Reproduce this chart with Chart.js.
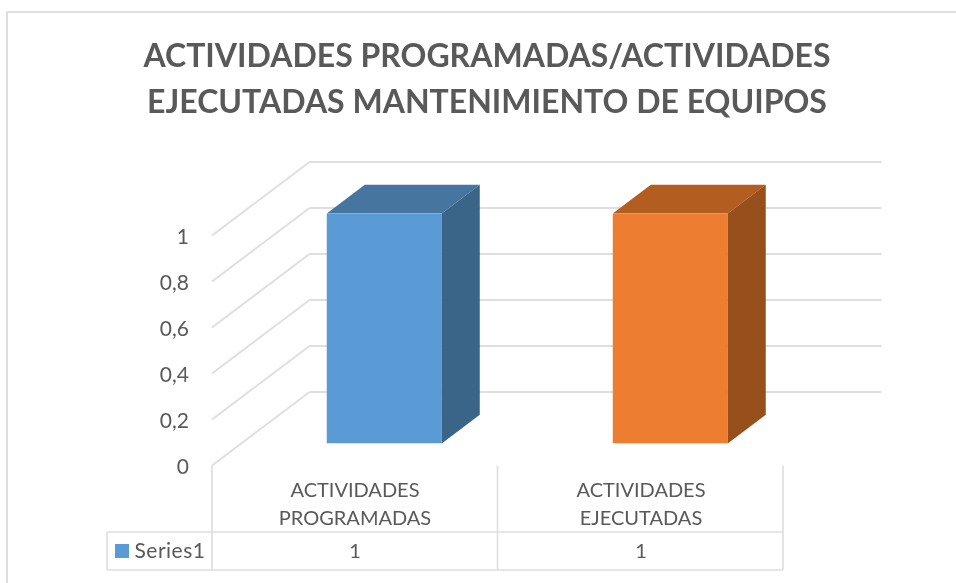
<!DOCTYPE html>
<html>
<head>
<meta charset="utf-8">
<style>html,body{margin:0;padding:0;background:#fff}#wrap{width:956px;height:583px}canvas{display:block}</style>
<script src="https://cdn.jsdelivr.net/npm/chart.js@4"></script>
</head>
<body>
<div id="wrap"><canvas id="c" width="956" height="583"></canvas></div>
<script>
const categories = [['ACTIVIDADES','PROGRAMADAS'],['ACTIVIDADES','EJECUTADAS']];
const seriesName = 'Series1';
const seriesValues = [1, 1];
const titleLines = ['ACTIVIDADES PROGRAMADAS/ACTIVIDADES','EJECUTADAS MANTENIMIENTO DE EQUIPOS'];
const frontColors = ['#5B9BD5','#ED7D31'];
const topColors = ['#4675A0','#B35D21'];
const sideColors = ['#3A6488','#974F1B'];

const GRID = '#DEDEDE', TEXT = '#595959', FONT = 'Lato';
const DEPTH = {x: 97.5, y: -73.5};
const BAR_OFFSET = 0.3, BAR_DEPTH = 0.39;

function poly(ctx, pts, fill){
  ctx.beginPath();
  pts.forEach((p,i)=> i ? ctx.lineTo(p[0],p[1]) : ctx.moveTo(p[0],p[1]));
  ctx.closePath();
  ctx.fillStyle = fill;
  ctx.fill();
}
function line(ctx,x1,y1,x2,y2){
  ctx.beginPath();ctx.moveTo(x1,y1);ctx.lineTo(x2,y2);ctx.stroke();
}

const scene3d = {
  id:'scene3d',
  beforeDraw(chart){
    const {ctx} = chart;
    ctx.save();
    ctx.fillStyle='#fff';ctx.fillRect(0,0,chart.width,chart.height);
    ctx.strokeStyle=GRID;ctx.lineWidth=2;
    line(ctx,6,12,956,12);
    line(ctx,7,12,7,583);
    ctx.restore();
  },
  beforeDatasetsDraw(chart){
    const {ctx, chartArea:a, scales:{x,y}} = chart;
    ctx.save();
    ctx.strokeStyle=GRID;ctx.lineWidth=1.8;
    y.ticks.forEach(t=>{
      const py=y.getPixelForValue(t.value);
      line(ctx,a.left,py,a.left+DEPTH.x,py+DEPTH.y);
      line(ctx,a.left+DEPTH.x,py+DEPTH.y,a.right+DEPTH.x,py+DEPTH.y);
    });
    ctx.restore();
    ctx.save();
    ctx.translate(DEPTH.x*BAR_OFFSET,DEPTH.y*BAR_OFFSET);
  },
  afterDatasetsDraw(chart){
    const {ctx} = chart;
    ctx.restore();
    const ox=DEPTH.x*BAR_OFFSET, oy=DEPTH.y*BAR_OFFSET, dx=DEPTH.x*BAR_DEPTH, dy=DEPTH.y*BAR_DEPTH;
    chart.getDatasetMeta(0).data.forEach((b,i)=>{
      const p=b.getProps(['x','y','base','width'],true);
      const l=p.x-p.width/2+ox, r=p.x+p.width/2+ox, t=p.y+oy, bt=p.base+oy;
      poly(ctx,[[l,t],[r,t],[r+dx,t+dy],[l+dx,t+dy]],topColors[i]);
      poly(ctx,[[r,t],[r+dx,t+dy],[r+dx,bt+dy],[r,bt]],sideColors[i]);
    });
  },
  afterDraw(chart){
    const {ctx, chartArea:a, scales:{x,y}} = chart;
    const top=532, bottom=570, left=107;
    const floor=y.getPixelForValue(0);
    const right=a.right-1;
    const edges=[a.left,(a.left+right)/2,right];
    ctx.save();
    ctx.strokeStyle=GRID;ctx.lineWidth=1.6;
    edges.forEach(e=>line(ctx,e,floor,e,bottom));
    line(ctx,left,top,right,top);
    line(ctx,left,bottom,right,bottom);
    line(ctx,left,top,left,bottom);
    ctx.fillStyle=frontColors[0];
    ctx.fillRect(115,544,14,14);
    ctx.fillStyle=TEXT;
    ctx.textBaseline='middle';
    ctx.textAlign='left';
    ctx.font='21px '+FONT;
    ctx.letterSpacing='0.5px';
    ctx.fillText(seriesName,134.5,551.5);
    ctx.letterSpacing='0px';
    ctx.font='20px '+FONT;
    ctx.textAlign='center';
    seriesValues.forEach((v,i)=>ctx.fillText(String(v),x.getPixelForValue(i),552));
    ctx.restore();
  }
};

new Chart(document.getElementById('c'),{
  type:'bar',
  data:{labels:categories,datasets:[{label:seriesName,data:seriesValues,backgroundColor:frontColors,borderWidth:0,categoryPercentage:1,barPercentage:0.402}]},
  plugins:[scene3d],
  options:{
    responsive:false,
    animation:false,
    layout:{padding:{left:18,right:0,top:0,bottom:0}},
    plugins:{
      legend:{display:false},
      tooltip:{enabled:false},
      title:{display:true,text:titleLines,color:TEXT,font:{family:FONT,size:32,weight:'bold',lineHeight:46/32},padding:{top:34,bottom:109.5}}
    },
    scales:{
      x:{
        grid:{display:false},border:{display:false},
        ticks:{color:TEXT,font:{family:FONT,size:20,lineHeight:28/20},padding:3,maxRotation:0,minRotation:0,autoSkip:false},
        afterFit(s){s.height=117.5;}
      },
      y:{
        min:0,max:1,
        grid:{display:false},border:{display:false},
        ticks:{stepSize:0.2,color:TEXT,font:{family:FONT,size:21},padding:15,labelOffset:2,callback:v=>String(Math.round(v*10)/10).replace('.',',')},
        afterFit(s){s.width=194;}
      },
      pad:{
        position:'right',display:true,min:0,max:1,
        grid:{display:false},border:{display:false},ticks:{display:false},
        afterFit(s){s.width=172;}
      }
    }
  }
});
</script>
</body>
</html>
